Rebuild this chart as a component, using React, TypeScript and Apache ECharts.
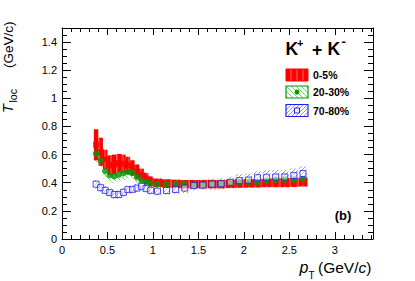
import React, { useEffect, useRef } from 'react';
import * as echarts from 'echarts';

// pT bin centres (GeV/c)
const PT = [0.375, 0.425, 0.475, 0.525, 0.575, 0.625, 0.675, 0.725, 0.775, 0.825, 0.875, 0.925, 0.975,
  1.05, 1.15, 1.25, 1.35, 1.45, 1.55, 1.65, 1.75, 1.85, 1.95, 2.05, 2.15, 2.25, 2.35, 2.45, 2.55, 2.65];

// 0-5%
const T_0_5 = [0.67, 0.62, 0.565, 0.525, 0.53, 0.54, 0.535, 0.525, 0.505, 0.48, 0.455, 0.43, 0.41,
  0.4, 0.395, 0.392, 0.39, 0.39, 0.39, 0.39, 0.39, 0.392, 0.394, 0.395, 0.396, 0.398, 0.4, 0.4, 0.402, 0.405];
const SYS_0_5 = [0.11, 0.1, 0.07, 0.07, 0.07, 0.065, 0.065, 0.06, 0.055, 0.05, 0.045, 0.04, 0.035,
  0.03, 0.03, 0.03, 0.03, 0.03, 0.03, 0.03, 0.03, 0.03, 0.03, 0.03, 0.03, 0.03, 0.032, 0.032, 0.032, 0.032];

// 20-30%
const T_20_30 = [0.607, 0.56, 0.483, 0.453, 0.446, 0.458, 0.467, 0.476, 0.472, 0.44, 0.417, 0.405, 0.396,
  0.389, 0.389, 0.394, 0.394, 0.389, 0.389, 0.391, 0.391, 0.396, 0.401, 0.405, 0.403, 0.412, 0.419, 0.422, 0.422, 0.426];
const SYS_20_30 = [0.06, 0.06, 0.055, 0.05, 0.05, 0.05, 0.05, 0.045, 0.045, 0.04, 0.035, 0.03, 0.03,
  0.025, 0.025, 0.025, 0.025, 0.025, 0.025, 0.025, 0.025, 0.025, 0.025, 0.025, 0.025, 0.025, 0.025, 0.025, 0.025, 0.025];

// 70-80%
const T_70_80 = [0.39, 0.365, 0.346, 0.33, 0.316, 0.316, 0.332, 0.351, 0.353, 0.362, 0.375, 0.358, 0.346,
  0.34, 0.345, 0.352, 0.362, 0.38, 0.383, 0.39, 0.393, 0.403, 0.415, 0.419, 0.436, 0.439, 0.441, 0.441, 0.451, 0.465];
const SYS_70_80 = [0.03, 0.03, 0.03, 0.03, 0.03, 0.03, 0.03, 0.03, 0.03, 0.03, 0.03, 0.03, 0.03,
  0.03, 0.03, 0.03, 0.035, 0.035, 0.035, 0.04, 0.04, 0.04, 0.045, 0.045, 0.045, 0.05, 0.05, 0.05, 0.05, 0.05];

const LEGEND = ['0-5%', '20-30%', '70-80%'];

const X_MIN = 0;
const X_MAX = 3.42;
const Y_MIN = 0;
const Y_MAX = 1.5;

const FONT = '"Liberation Sans", Arial, Helvetica, sans-serif';
const RED = '#ff0000';
const GREEN = '#009a00';
const BLUE = '#2020ff';

function hatch(size: number, lineColor: string, dir: 'v' | '/' | '\\', bg?: string) {
  const c = document.createElement('canvas');
  c.width = size;
  c.height = size;
  const g = c.getContext('2d')!;
  if (bg) {
    g.fillStyle = bg;
    g.fillRect(0, 0, size, size);
  }
  g.strokeStyle = lineColor;
  g.lineWidth = 1;
  g.beginPath();
  if (dir === 'v') {
    g.moveTo(size / 2, 0);
    g.lineTo(size / 2, size);
  } else if (dir === '/') {
    for (const k of [-size, 0, size]) {
      g.moveTo(k, size);
      g.lineTo(k + size, 0);
    }
  } else {
    for (const k of [-size, 0, size]) {
      g.moveTo(k, 0);
      g.lineTo(k + size, size);
    }
  }
  g.stroke();
  return c;
}

function binWidth(x: number) {
  return x < 1 ? 0.05 : 0.1;
}

function boxSeries(name: string, vals: number[], sys: number[], fill: any, frac: number) {
  return {
    type: 'custom',
    name,
    xAxisIndex: 0,
    yAxisIndex: 0,
    silent: true,
    encode: { x: 0, y: 1 },
    data: PT.map((x, i) => [x, vals[i], sys[i]]),
    renderItem: (params: any, api: any) => {
      const x = api.value(0);
      const y = api.value(1);
      const e = api.value(2);
      const w = binWidth(x) * frac;
      const p1 = api.coord([x - w / 2, y + e]);
      const p2 = api.coord([x + w / 2, y - e]);
      return {
        type: 'rect',
        shape: { x: p1[0], y: p1[1], width: p2[0] - p1[0], height: p2[1] - p1[1] },
        style: { fill, stroke: null },
      };
    },
  };
}

function txt(text: string, x: number, y: number, opts: any = {}) {
  return {
    type: 'text',
    x,
    y,
    silent: true,
    style: {
      text,
      fontFamily: FONT,
      fontSize: opts.fontSize ?? 12,
      fontWeight: opts.fontWeight ?? 'normal',
      fontStyle: opts.fontStyle ?? 'normal',
      fill: opts.fill ?? '#000',
      align: opts.align ?? 'left',
      textAlign: opts.align ?? 'left',
      verticalAlign: 'middle',
      textVerticalAlign: 'middle',
    },
  };
}

function axisCommon(extra: any) {
  return {
    type: 'value',
    splitLine: { show: false },
    axisLine: { show: true, onZero: false, lineStyle: { color: '#000', width: 1 } },
    ...extra,
  };
}

export default function App() {
  const ref = useRef<HTMLDivElement>(null);

  useEffect(() => {
    const chart = echarts.init(ref.current!, null, { renderer: 'svg' });

    const redFill = { image: hatch(6, 'rgba(255,140,140,0.75)', 'v', RED), repeat: 'repeat' };
    const greenFill = { image: hatch(5, 'rgba(0,170,0,0.55)', '\\'), repeat: 'repeat' };
    const blueFill = { image: hatch(4, 'rgba(70,70,255,0.6)', '/'), repeat: 'repeat' };

    const xMajor = { min: X_MIN, max: X_MAX, interval: 0.5 };
    const xMinor = { min: X_MIN, max: X_MAX, interval: 0.1 };
    const yMajor = { min: Y_MIN, max: Y_MAX, interval: 0.2 };
    const yMinor = { min: Y_MIN, max: Y_MAX, interval: 0.05 };
    const noLabel = { axisLabel: { show: false } };

    const legendRows = [
      { y: 75, label: LEGEND[0], kind: 'red' },
      { y: 92, label: LEGEND[1], kind: 'green' },
      { y: 110.5, label: LEGEND[2], kind: 'blue' },
    ];
    const legendGraphics: any[] = [];
    legendRows.forEach((r) => {
      const bx = 286, bw = 22, bh = 12;
      if (r.kind === 'red') {
        legendGraphics.push({ type: 'rect', silent: true, shape: { x: bx, y: r.y - bh / 2, width: bw, height: bh }, style: { fill: redFill, stroke: RED, lineWidth: 1 } });
      } else if (r.kind === 'green') {
        legendGraphics.push({ type: 'rect', silent: true, shape: { x: bx, y: r.y - bh / 2, width: bw, height: bh }, style: { fill: greenFill, stroke: GREEN, lineWidth: 1.2 } });
        legendGraphics.push({ type: 'circle', silent: true, shape: { cx: bx + bw / 2, cy: r.y, r: 2.5 }, style: { fill: GREEN } });
      } else {
        legendGraphics.push({ type: 'rect', silent: true, shape: { x: bx, y: r.y - bh / 2, width: bw, height: bh }, style: { fill: blueFill, stroke: BLUE, lineWidth: 1.2 } });
        legendGraphics.push({ type: 'rect', silent: true, shape: { x: bx + bw / 2 - 2.5, y: r.y - 2.5, width: 5, height: 5 }, style: { fill: '#fff', stroke: BLUE, lineWidth: 1 } });
      }
      legendGraphics.push(txt(r.label, 313, r.y, { fontSize: 10.5, fontWeight: 'bold' }));
    });

    const option: any = {
      animation: false,
      backgroundColor: '#fff',
      grid: { left: 62, top: 28, right: 42, bottom: 42, containLabel: false },
      xAxis: [
        axisCommon({
          ...xMajor, position: 'bottom',
          axisTick: { show: true, inside: true, length: 7, lineStyle: { color: '#000' } },
          axisLabel: { show: true, fontSize: 11, color: '#000', fontFamily: FONT, margin: 5, showMaxLabel: false },
        }),
        axisCommon({ ...xMinor, ...noLabel, position: 'bottom', axisLine: { show: false, onZero: false }, axisTick: { show: true, inside: true, length: 4, lineStyle: { color: '#000' } } }),
        axisCommon({ ...xMajor, ...noLabel, position: 'top', axisTick: { show: true, inside: true, length: 7, lineStyle: { color: '#000' } } }),
        axisCommon({ ...xMinor, ...noLabel, position: 'top', axisLine: { show: false, onZero: false }, axisTick: { show: true, inside: true, length: 4, lineStyle: { color: '#000' } } }),
      ],
      yAxis: [
        axisCommon({
          ...yMajor, position: 'left',
          axisTick: { show: true, inside: true, length: 9, lineStyle: { color: '#000' } },
          axisLabel: { show: true, fontSize: 11, color: '#000', fontFamily: FONT, margin: 5, showMaxLabel: false },
        }),
        axisCommon({ ...yMinor, ...noLabel, position: 'left', axisLine: { show: false, onZero: false }, axisTick: { show: true, inside: true, length: 5, lineStyle: { color: '#000' } } }),
        axisCommon({ ...yMajor, ...noLabel, position: 'right', axisTick: { show: true, inside: true, length: 9, lineStyle: { color: '#000' } } }),
        axisCommon({ ...yMinor, ...noLabel, position: 'right', axisLine: { show: false, onZero: false }, axisTick: { show: true, inside: true, length: 5, lineStyle: { color: '#000' } } }),
      ],
      series: [
        boxSeries('sys 70-80%', T_70_80, SYS_70_80, blueFill, 0.8),
        boxSeries('sys 20-30%', T_20_30, SYS_20_30, greenFill, 0.8),
        boxSeries('sys 0-5%', T_0_5, SYS_0_5, redFill, 1.0),
        {
          type: 'scatter', name: LEGEND[0], xAxisIndex: 0, yAxisIndex: 0, silent: true,
          symbol: 'rect', symbolSize: 6, itemStyle: { color: RED },
          data: PT.map((x, i) => [x, T_0_5[i]]),
        },
        {
          type: 'scatter', name: LEGEND[1], xAxisIndex: 0, yAxisIndex: 0, silent: true,
          symbol: 'circle', symbolSize: 6.5, itemStyle: { color: GREEN },
          data: PT.map((x, i) => [x, T_20_30[i]]),
        },
        {
          type: 'scatter', name: LEGEND[2], xAxisIndex: 0, yAxisIndex: 0, silent: true,
          symbol: 'rect', symbolSize: 6, itemStyle: { color: 'rgba(255,255,255,0.6)', borderColor: BLUE, borderWidth: 1 },
          data: PT.map((x, i) => [x, T_70_80[i]]),
        },
      ],
      graphic: [
        // y-axis title
        {
          type: 'group', x: 8, y: 113, rotation: Math.PI / 2, silent: true,
          children: [
            txt('T', 0, 0, { fontSize: 14.5, fontStyle: 'italic' }),
            txt('loc', 10.5, 4.5, { fontSize: 10.5 }),
            txt('(GeV/c)', 45, 0, { fontSize: 13.5 }),
          ],
        },
        // x-axis title
        txt('p', 299.5, 267, { fontSize: 16, fontStyle: 'italic' }),
        txt('T', 308.5, 275.5, { fontSize: 10 }),
        {
          type: 'text', x: 318, y: 267, silent: true,
          style: {
            text: '{a|(GeV/}{i|c}{a|)}',
            align: 'left', textAlign: 'left', verticalAlign: 'middle', textVerticalAlign: 'middle',
            fill: '#000',
            rich: {
              a: { fontSize: 15.5, fontFamily: FONT, fill: '#000' },
              i: { fontSize: 15.5, fontFamily: FONT, fontStyle: 'italic', fill: '#000' },
            },
          },
        },
        // particle label
        txt('K', 285.5, 48.5, { fontSize: 17.5, fontWeight: 'bold' }),
        txt('+', 297, 42.5, { fontSize: 11, fontWeight: 'bold' }),
        txt('+', 312, 49.5, { fontSize: 17.5, fontWeight: 'bold' }),
        txt('K', 327.5, 48.5, { fontSize: 17.5, fontWeight: 'bold' }),
        txt('-', 341.5, 41.5, { fontSize: 13, fontWeight: 'bold' }),
        ...legendGraphics,
        txt('(b)', 343, 215, { fontSize: 13, fontWeight: 'bold', align: 'center' }),
      ],
    };

    chart.setOption(option);
    return () => chart.dispose();
  }, []);

  return (
    <div
      ref={ref}
      style={{ position: 'fixed', left: 0, top: 0, width: 415, height: 281, background: '#fff' }}
    />
  );
}
